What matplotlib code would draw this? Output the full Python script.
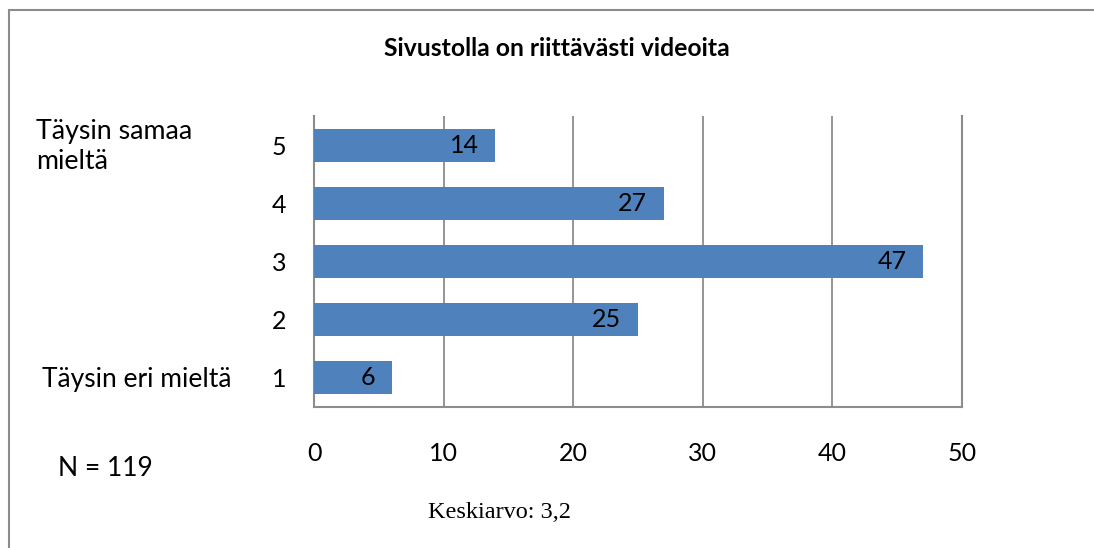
import matplotlib
matplotlib.use("Agg")
import matplotlib.pyplot as plt
from matplotlib.patches import Rectangle

categories = ["1", "2", "3", "4", "5"]
values = [6, 25, 47, 27, 14]
xticks = [0, 10, 20, 30, 40, 50]
title = "Sivustolla on riittävästi videoita"

FONT = ["Lato", "DejaVu Sans"]
BAR = "#4F81BD"
GRID = "#8C8C8C"

fig = plt.figure(figsize=(10.94, 5.48), dpi=100)
ax = fig.add_axes([314/1094, 1-407/548, (962-314)/1094, (407-116)/548])

ypos = list(range(len(categories)))
bars = ax.barh(ypos, values, height=0.57, color=BAR, zorder=3)
ax.set_xlim(0, 50)
ax.set_ylim(-0.5, len(categories)-0.5)
ax.set_xticks(xticks)
ax.set_xticklabels([str(v) for v in xticks], fontsize=18, family=FONT)
ax.set_yticks(ypos)
ax.set_yticklabels(categories, fontsize=18, family=FONT)
ax.tick_params(axis="both", length=0)
ax.tick_params(axis="x", pad=25)
ax.tick_params(axis="y", pad=20)
ax.grid(axis="x", color=GRID, linewidth=1.3, zorder=0)
ax.spines["top"].set_visible(False)
for s in ["left", "bottom", "right"]:
    ax.spines[s].set_color(GRID)
    ax.spines[s].set_linewidth(1.5)

for b, v in zip(bars, values):
    ax.annotate(str(v), (b.get_width(), b.get_y() + b.get_height()/2),
                xytext=(-12, 0), textcoords="offset points",
                ha="right", va="center", fontsize=18, family=FONT, zorder=4)

fig.text(557/1094, 1-48/548, title, ha="center", va="center",
         fontsize=17.8, fontweight="bold", family=FONT)
fig.text(36/1094, 1-147/548, "Täysin samaa\nmieltä", ha="left", va="center",
         fontsize=19.3, family=FONT, linespacing=1.25)
fig.text(42/1094, 1-379/548, "Täysin eri mieltä", ha="left", va="center",
         fontsize=19, family=FONT)
fig.text(58/1094, 1-468/548, "N = 119", ha="left", va="center",
         fontsize=19, family=FONT)
fig.text(499/1094, 1-513/548, "Keskiarvo: 3,2", ha="center", va="center",
         fontsize=17.5, family=["Liberation Serif", "DejaVu Serif"])

fig.patches.append(Rectangle((9/1094, -0.1), 1.2, 1-10/548+0.1,
                             transform=fig.transFigure, fill=False,
                             edgecolor="#8C8C8C", linewidth=1.5))

fig.savefig("out.png", dpi=100)
